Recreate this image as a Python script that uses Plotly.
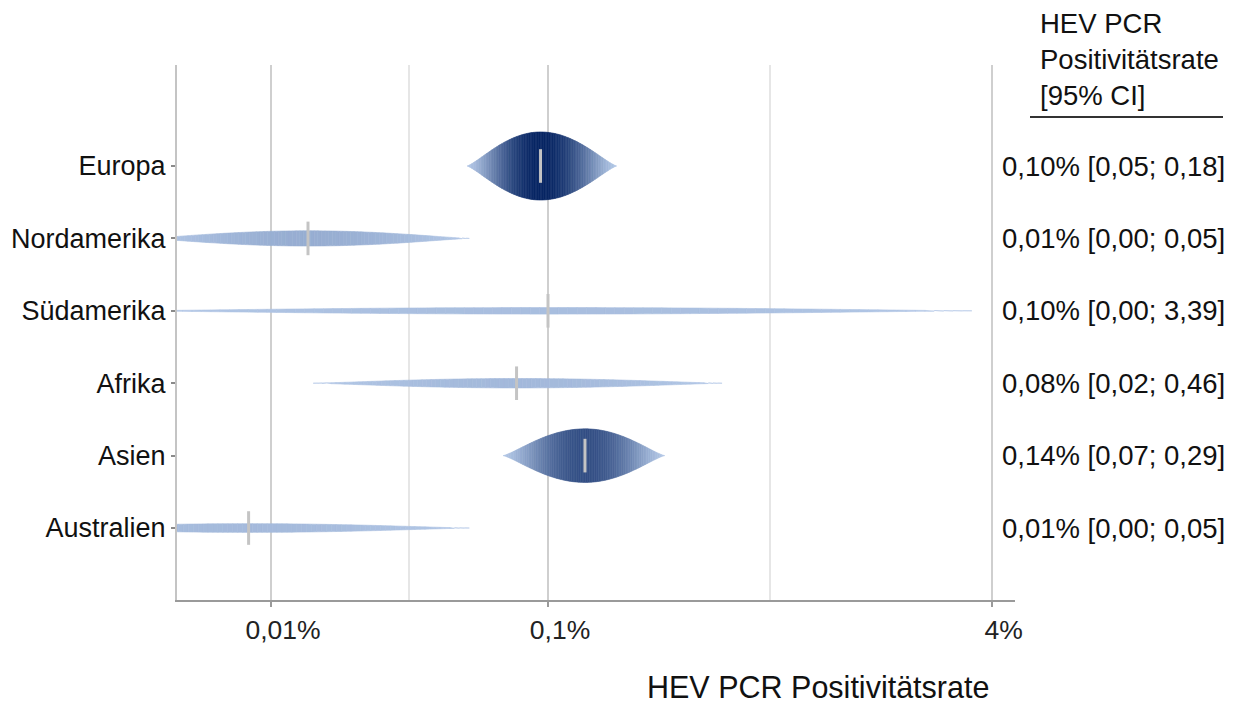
import numpy as np
import plotly.graph_objects as go

# ---- data ----
regions = ["Europa", "Nordamerika", "Südamerika", "Afrika", "Asien", "Australien"]
row_pos = [6, 5, 4, 3, 2, 1]
estimate = [0.094, 0.0136, 0.100, 0.077, 0.136, 0.0083]      # % (point estimate)
shape_low = [0.051, 0.0035, 0.0030, 0.0142, 0.0688, 0.0013]   # % (left end of shape)
shape_high = [0.177, 0.052, 3.39, 0.425, 0.264, 0.052]        # % (right end of shape)
shape_halfheight = [0.47, 0.105, 0.045, 0.065, 0.37, 0.06]     # row units (weight)
ci_text = ["0,10% [0,05; 0,18]", "0,01% [0,00; 0,05]", "0,10% [0,00; 3,39]",
           "0,08% [0,02; 0,46]", "0,14% [0,07; 0,29]", "0,01% [0,00; 0,05]"]
x_tickvals = [0.01, 0.1, 4]
x_ticktext = ["0,01%", "0,1%", "4%"]
x_minor_grid = [0.0316, 0.632]

FONT = "Liberation Sans, Arial, sans-serif"
LIGHT = np.array([178, 199, 230])
DARK = np.array([8, 38, 100])
HMAX = max(shape_halfheight)

fig = go.Figure()

N = 90
for name, y0, est, lo, hi, H in zip(regions, row_pos, estimate, shape_low, shape_high, shape_halfheight):
    lx = np.linspace(np.log10(lo), np.log10(hi), N + 1)
    le = np.log10(est)
    left_w = le - np.log10(lo)
    right_w = np.log10(hi) - le
    u = np.where(lx < le, (lx - le) / left_w, (lx - le) / right_w)
    h = H * np.clip(1 - u ** 2, 0, None) ** 1.3
    xs = 10 ** lx
    for i in range(N):
        hm = 0.5 * (h[i] + h[i + 1])
        t = (hm / HMAX) ** 1.25
        rgb = LIGHT + (DARK - LIGHT) * t
        col = "rgb(%d,%d,%d)" % tuple(rgb.astype(int))
        fig.add_trace(go.Scatter(
            x=[xs[i], xs[i + 1], xs[i + 1], xs[i], xs[i]],
            y=[y0 + h[i], y0 + h[i + 1], y0 - h[i + 1], y0 - h[i], y0 + h[i]],
            mode="lines", fill="toself", fillcolor=col,
            line=dict(color=col, width=0.6),
            hoverinfo="skip", showlegend=False))

# point estimates
fig.add_trace(go.Scatter(
    x=estimate, y=row_pos, mode="markers",
    marker=dict(symbol="line-ns", size=24, line=dict(color="#c4c4c4", width=3)),
    showlegend=False, hovertext=regions))

# right-hand text column
for y0, txt in zip(row_pos, ci_text):
    fig.add_annotation(x=(1000 - 177) / 838, xref="paper", y=y0, yref="y",
                       text=txt, showarrow=False, xanchor="left", yanchor="middle",
                       font=dict(family=FONT, size=27.5, color="#111111"))

fig.add_annotation(x=(1038 - 177) / 838, xref="paper", y=1 + 59 / 535,
                   yref="paper", text="HEV PCR<br>Positivitätsrate<br>[95% CI]",
                   showarrow=False, xanchor="left", yanchor="top", align="left",
                   font=dict(family=FONT, size=27.5, color="#111111"))
fig.add_shape(type="line", xref="paper", yref="paper",
              x0=(1030 - 177) / 838, x1=(1223 - 177) / 838,
              y0=1 - (117 - 65) / 535, y1=1 - (117 - 65) / 535,
              line=dict(color="#333333", width=2))

fig.add_annotation(x=(818 - 177) / 838, xref="paper", y=-(687 - 600) / 535, yref="paper",
                   text="HEV PCR Positivitätsrate", showarrow=False,
                   xanchor="center", yanchor="middle",
                   font=dict(family=FONT, size=30.5, color="#111111"))

# page body has an 8px margin: figure origin sits at (8, 8)
fig.update_layout(
    width=1225, height=696,
    margin=dict(l=169, r=218, t=57, b=104),
    paper_bgcolor="white", plot_bgcolor="white",
    font=dict(family=FONT, size=27, color="#111111"),
    xaxis=dict(type="log", range=[-2.3394, 0.686], automargin=False,
               tickvals=x_tickvals, ticktext=x_ticktext,
               ticks="outside", ticklen=5, tickwidth=2, tickcolor="#9a9a9a",
               ticklabelshift=12,
               showline=True, linecolor="#9a9a9a", linewidth=2,
               showgrid=True, gridcolor="#cfcfcf", gridwidth=1.5,
               minor=dict(tickvals=x_minor_grid, showgrid=True, gridcolor="#e6e6e6",
                          gridwidth=1.5, ticks=""),
               zeroline=False,
               tickfont=dict(family=FONT, size=26.5, color="#222222")),
    yaxis=dict(range=[0.006, 7.395], tickvals=row_pos, ticktext=regions,
               automargin=False,
               ticks="outside", ticklen=4, tickwidth=2, tickcolor="#8a8a8a",
               showline=True, linecolor="#c4c4c4", linewidth=2,
               showgrid=False, zeroline=False,
               tickfont=dict(family=FONT, size=27, color="#111111")),
)

fig.write_html("out.html")
